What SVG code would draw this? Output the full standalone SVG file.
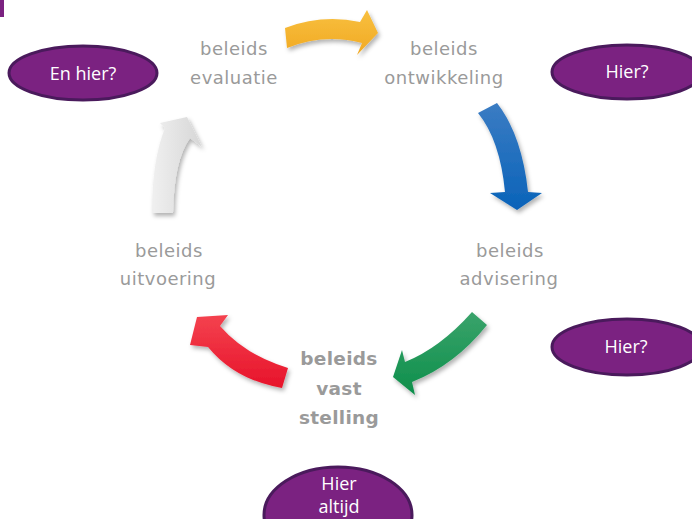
<svg xmlns="http://www.w3.org/2000/svg" width="692" height="519" viewBox="0 0 692 519">
<defs>
<style>
.lbl{font-family:"DejaVu Sans",Verdana,sans-serif;font-size:18px;fill:#9a9a9a;text-anchor:middle;letter-spacing:0.5px}
.bold{font-weight:bold;font-size:18.5px;letter-spacing:0.3px}
.oval{fill:#7b2281;stroke:#4a1a5c;stroke-width:3}
.otxt{font-family:"Open Sans","Noto Sans",sans-serif;font-size:18px;fill:#ffffff;text-anchor:middle}
</style>
<filter id="sh" x="-30%" y="-30%" width="160%" height="160%">
<feDropShadow dx="2" dy="3" stdDeviation="2" flood-color="#000" flood-opacity="0.3"/>
</filter>
<linearGradient id="gy" x1="0" y1="0" x2="0" y2="1"><stop offset="0" stop-color="#f8c03f"/><stop offset="1" stop-color="#f1a923"/></linearGradient>
<linearGradient id="gb" x1="0" y1="0" x2="0" y2="1"><stop offset="0" stop-color="#3b7cc3"/><stop offset="1" stop-color="#0a63b9"/></linearGradient>
<linearGradient id="gg" x1="0" y1="0" x2="0" y2="1"><stop offset="0" stop-color="#3aa36b"/><stop offset="1" stop-color="#0e8f4b"/></linearGradient>
<linearGradient id="gr" x1="0" y1="0" x2="0" y2="1"><stop offset="0" stop-color="#f4424f"/><stop offset="1" stop-color="#e7132a"/></linearGradient>
<linearGradient id="gw" x1="0" y1="0" x2="1" y2="0"><stop offset="0" stop-color="#f0f0f0"/><stop offset="1" stop-color="#d6d6d6"/></linearGradient>
</defs>
<rect x="0" y="0" width="4" height="17" fill="#7b2281"/>
<g id="connectors" filter="url(#sh)">
<path d="M285,28 Q322,14 360,22 L367,10 L378,33 L357,55 L362,43 Q324,33 287,48 Z" fill="url(#gy)"/>
<path d="M478,113 L497,103 Q522,135 528,192 L542,193 L517,210 L490,193 L505,192 Q500,140 478,113 Z" fill="url(#gb)"/>
<path d="M472,312 L487,325 Q455,365 412,382 L415,395 L393,377 L402,350 L405,362 Q440,348 472,312 Z" fill="url(#gg)"/>
<path d="M288,368 L282,388 Q235,380 208,347 L190,345 L197,317 L228,315 L220,326 Q245,355 288,368 Z" fill="url(#gr)"/>
<path d="M152,213 L173,213 Q174,160 190,138 L202,147 L187,117 L160,123 L165,128 Q152,160 152,213 Z" fill="url(#gw)"/>
</g>
<g id="evaluatie"><text class="lbl" x="234" y="55">beleids</text><text class="lbl" x="234" y="84">evaluatie</text></g>
<g id="ontwikkeling"><text class="lbl" x="444" y="55">beleids</text><text class="lbl" x="444" y="84">ontwikkeling</text></g>
<g id="advisering"><text class="lbl" x="510" y="257">beleids</text><text class="lbl" x="509" y="285">advisering</text></g>
<g id="uitvoering"><text class="lbl" x="169" y="257">beleids</text><text class="lbl" x="168" y="285">uitvoering</text></g>
<g id="vaststelling"><text class="lbl bold" x="339" y="365">beleids</text><text class="lbl bold" x="339" y="395">vast</text><text class="lbl bold" x="339" y="424">stelling</text></g>
<g id="en-hier"><ellipse class="oval" cx="83" cy="73" rx="74" ry="27"/><text class="otxt" x="83" y="80">En hier?</text></g>
<g id="hier-top"><ellipse class="oval" cx="627" cy="72" rx="75" ry="27"/><text class="otxt" x="627" y="78">Hier?</text></g>
<g id="hier-mid"><ellipse class="oval" cx="627" cy="347" rx="75" ry="28"/><text class="otxt" x="626" y="353">Hier?</text></g>
<g id="hier-altijd"><ellipse class="oval" cx="338" cy="515" rx="74" ry="48"/><text class="otxt" x="339" y="490">Hier</text><text class="otxt" x="339" y="513">altijd</text></g>
</svg>
